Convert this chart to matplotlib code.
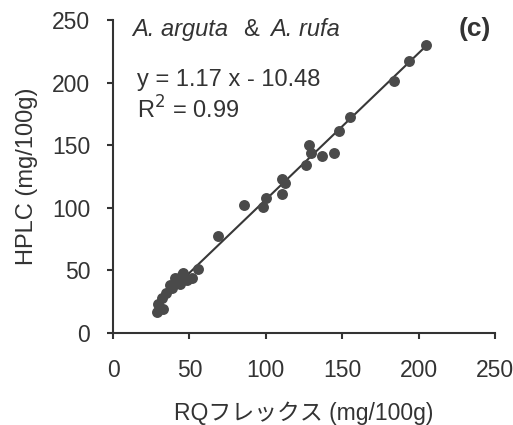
import numpy as np
import matplotlib
matplotlib.use("Agg")
import matplotlib.pyplot as plt

plt.rcParams['font.family'] = ['Liberation Sans', 'Noto Sans CJK JP']

# RQflex vs HPLC values (mg/100g)
rq = [205, 193.4, 183.8, 155, 148, 128.3, 129.8, 137, 144.7, 126,
      110.7, 112.3, 110.7, 99.8, 98, 85.5, 69, 55.5, 46, 51.5,
      40.6, 43.9, 38.4, 35, 31.8, 29.6, 28.5, 32.9, 48.5, 42, 45, 37]
hplc = [230, 217.6, 201.6, 172.8, 161, 150.4, 144, 141.6, 143.7, 134.4,
        123, 119.4, 111.4, 107.7, 100.3, 102, 77.6, 51, 48, 44,
        44, 39, 36, 32, 28, 23, 17, 19, 42, 41, 46, 38]

slope = 1.17
intercept = -10.48
fit_x = [28, 205]

fig = plt.figure(figsize=(5.13, 4.25), dpi=100)
ax = fig.add_axes([0.2203, 0.2165, 0.7446, 0.7365])

dark = '#333333'
ax.scatter(rq, hplc, s=62, color='#4a4a4a', zorder=3, linewidths=0)
fx = np.array(fit_x)
ax.plot(fx, slope * fx + intercept, color='#383838', lw=1.5, zorder=2)

ax.set_xlim(0, 250)
ax.set_ylim(0, 250)
ax.set_xticks(range(0, 251, 50))
ax.set_yticks(range(0, 251, 50))
for s in ['top', 'right']:
    ax.spines[s].set_visible(False)
for s in ['left', 'bottom']:
    ax.spines[s].set_color(dark)
    ax.spines[s].set_linewidth(1.5)
ax.tick_params(direction='out', length=4.5, width=1.5, color=dark,
               labelsize=16.5, labelcolor=dark)
ax.tick_params(axis='x', pad=14)
ax.tick_params(axis='y', pad=12)

ax.set_xlabel('RQフレックス (mg/100g)', fontsize=16.5, color=dark, labelpad=14)
ax.set_ylabel('HPLC (mg/100g)', fontsize=17, color=dark, labelpad=10)

tk = dict(transform=ax.transAxes, va='baseline', ha='left', color=dark)
ax.text(0.050, 0.950, 'A. arguta', style='italic', fontsize=17, **tk)
ax.text(0.340, 0.950, '&', fontsize=17, **tk)
ax.text(0.411, 0.950, 'A. rufa', style='italic', fontsize=17, **tk)
ax.text(0.990, 0.950, '(c)', fontweight='bold', fontsize=19,
        transform=ax.transAxes, va='baseline', ha='right', color=dark)
ax.text(0.063, 0.790, 'y = 1.17 x - 10.48', fontsize=17, **tk)
ax.text(0.063, 0.684, 'R$^2$ = 0.99', fontsize=17, **tk)

fig.savefig('out.png', dpi=100)
